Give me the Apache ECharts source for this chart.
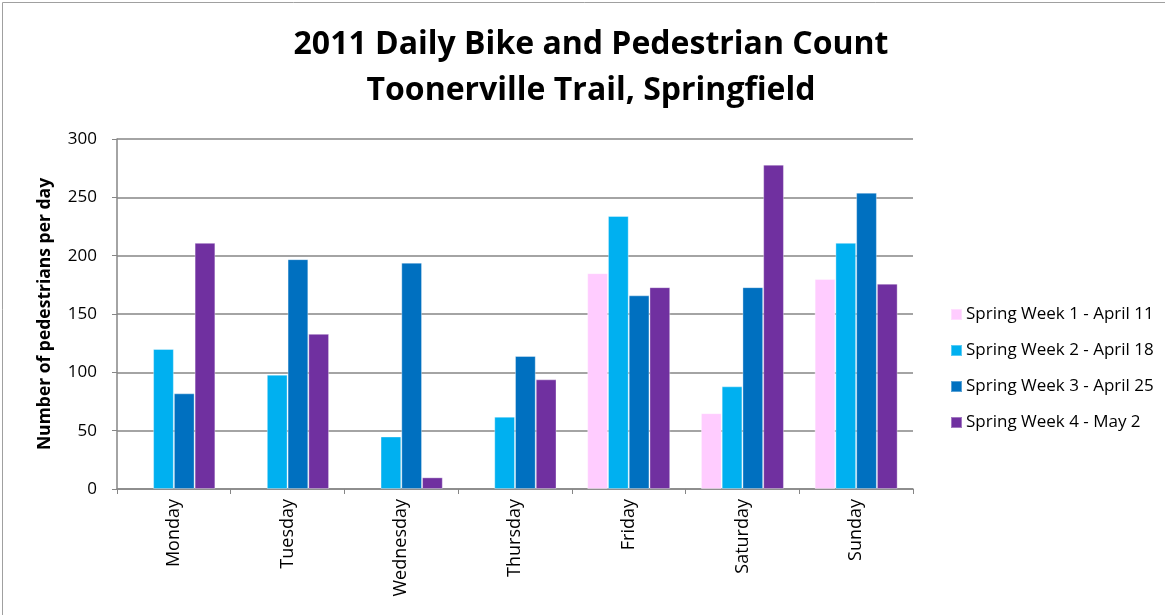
<!DOCTYPE html>
<html>
<head>
<meta charset="utf-8">
<script src="https://cdn.jsdelivr.net/npm/echarts@6/dist/echarts.min.js"></script>
<style>
html,body{margin:0;padding:0;background:#fff;}
#chart{width:1165px;height:615px;}
</style>
</head>
<body>
<div id="chart"></div>
<script>
var categories = ['Monday','Tuesday','Wednesday','Thursday','Friday','Saturday','Sunday'];
var seriesNames = ['Spring Week 1 - April 11','Spring Week 2 - April 18','Spring Week 3 - April 25','Spring Week 4 - May 2'];
var week1 = [null, null, null, null, 185, 65, 180];
var week2 = [120, 98, 45, 62, 234, 88, 211];
var week3 = [82, 197, 194, 114, 166, 173, 254];
var week4 = [211, 133, 10, 94, 173, 278, 176];
var colors = ['#FFCCFF', '#00B0F0', '#0070C0', '#7030A0'];
var yTicks = [0, 50, 100, 150, 200, 250, 300];

var font = "'Open Sans', 'Noto Sans', sans-serif";
var allData = [week1, week2, week3, week4];
var chart = echarts.init(document.getElementById('chart'));
chart.setOption({
  animation: false,
  textStyle: {fontFamily: font},
  title: {
    text: '2011 Daily Bike and Pedestrian Count\nToonerville Trail, Springfield',
    left: 586, top: 17, textAlign: 'center',
    textStyle: {fontSize: 32, fontWeight: 'bold', color: '#000', lineHeight: 46, fontFamily: font}
  },
  graphic: [{
    type: 'rect', shape: {x: 2.5, y: 2.5, width: 1300, height: 800},
    style: {fill: 'none', stroke: '#A0A0A0', lineWidth: 1}, silent: true
  }],
  legend: {
    orient: 'vertical', left: 945, top: 301,
    itemWidth: 11, itemHeight: 11, itemGap: 19,
    icon: 'rect',
    textStyle: {fontSize: 17, color: '#000', fontFamily: font, padding: [0, 0, 0, -1]},
    data: seriesNames
  },
  grid: {left: 117, top: 139, width: 796, height: 350, containLabel: false},
  xAxis: {
    type: 'category', data: categories,
    axisLine: {lineStyle: {color: '#868686', width: 1.5}},
    axisTick: {show: true, length: 5, alignWithLabel: false, lineStyle: {color: '#868686'}},
    axisLabel: {rotate: 90, fontSize: 18, color: '#000', margin: 10, fontFamily: font}
  },
  yAxis: {
    type: 'value', min: 0, max: 300, interval: 50,
    name: 'Number of pedestrians per day', nameLocation: 'middle', nameGap: 63,
    nameTextStyle: {fontSize: 17.5, fontWeight: 'bold', color: '#000', fontFamily: font},
    axisLine: {show: true, lineStyle: {color: '#868686', width: 1.5}},
    axisTick: {show: true, length: 5, lineStyle: {color: '#868686'}},
    axisLabel: {fontSize: 17, color: '#000', margin: 20, fontFamily: font,
      formatter: function (v) { return yTicks.indexOf(v) >= 0 ? String(v) : ''; }},
    splitLine: {lineStyle: {color: '#868686', width: 1.5}}
  },
  series: seriesNames.map(function (n, i) {
    return {
      name: n, type: 'bar', data: allData[i],
      barGap: '0%', barCategoryGap: '27%',
      itemStyle: {color: colors[i], borderColor: 'rgba(255,255,255,0.35)', borderWidth: 1}
    };
  })
});
</script>
</body>
</html>
